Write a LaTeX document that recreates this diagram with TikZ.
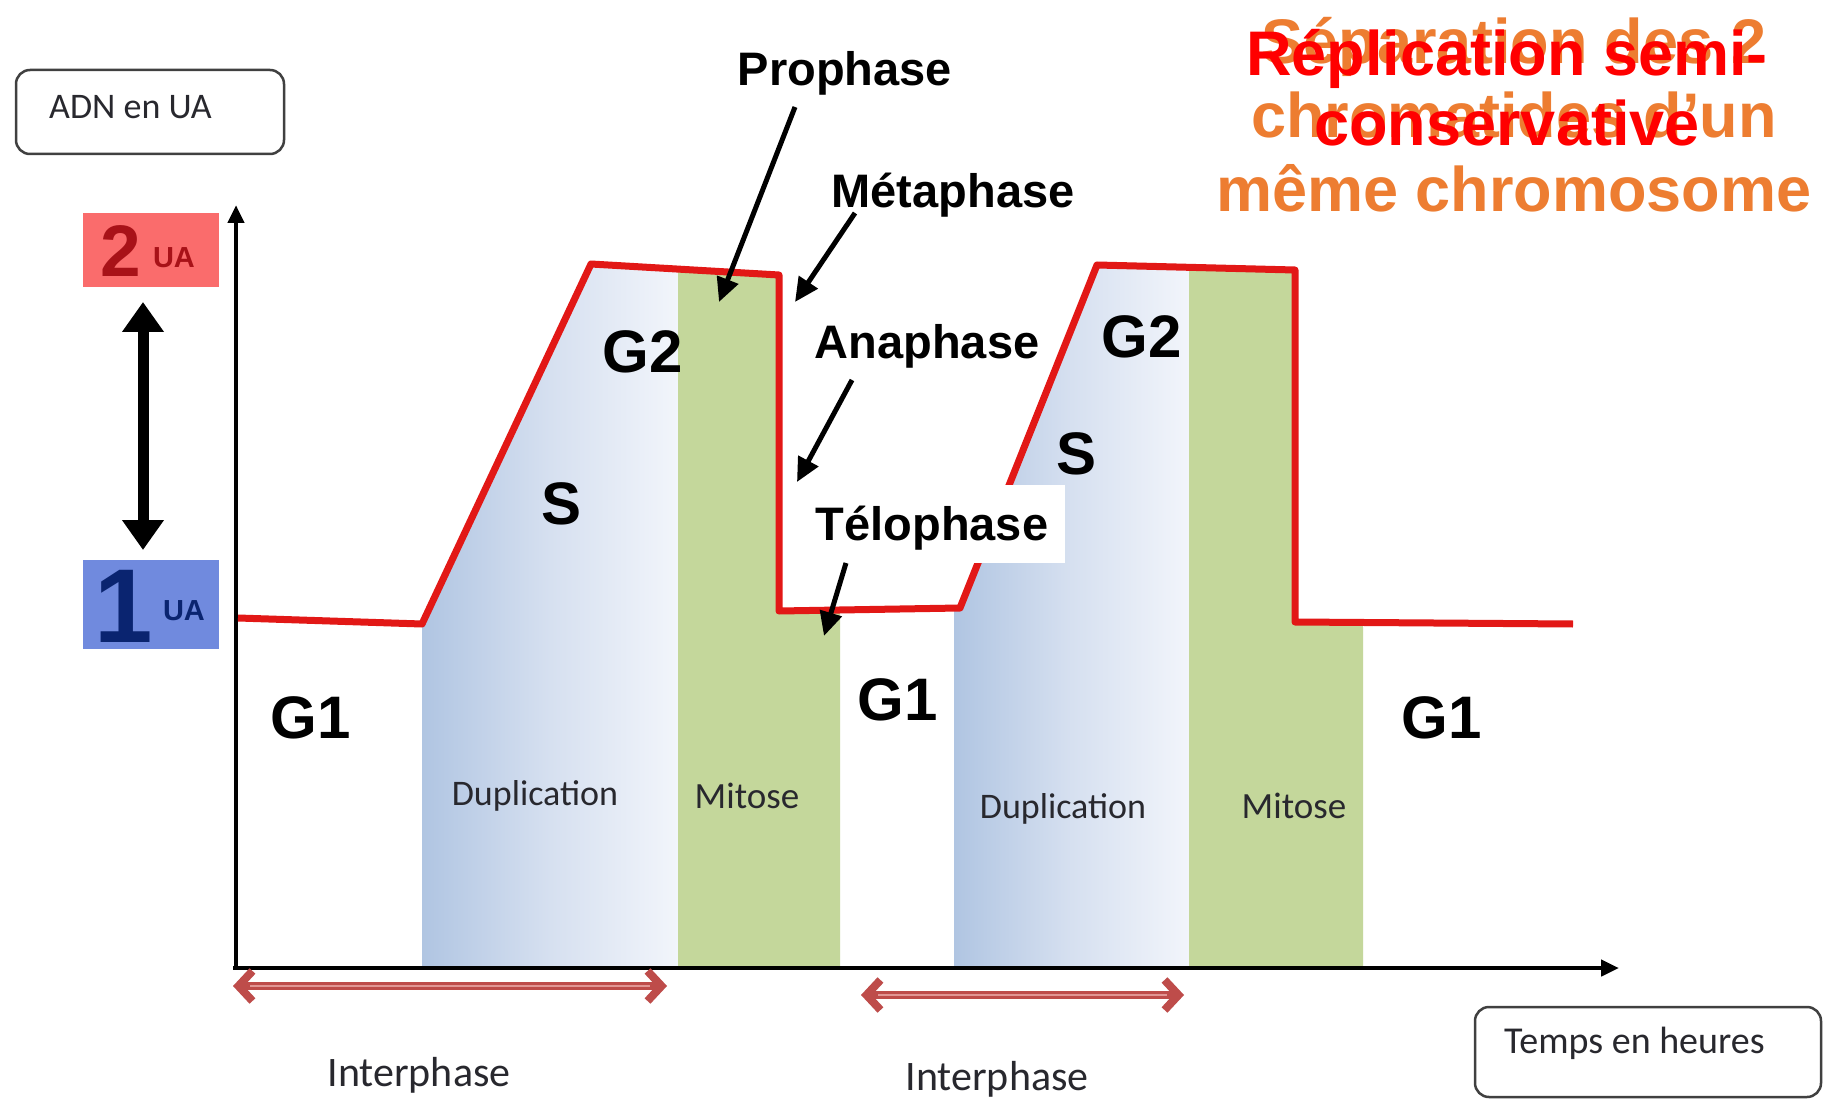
\documentclass[tikz,border=0pt]{standalone}
\usepackage{fontspec}
\setmainfont{Liberation Sans}
\newfontfamily\calib{Carlito}
\usetikzlibrary{arrows.meta}

\definecolor{curvered}{RGB}{226,24,22}
\definecolor{mitgreen}{RGB}{196,215,155}
\definecolor{dupblue}{RGB}{176,197,226}
\definecolor{dupmid}{RGB}{214,224,240}
\definecolor{dupwhite}{RGB}{242,245,251}
\definecolor{ivred}{RGB}{190,76,74}
\definecolor{ivlight}{RGB}{226,150,148}
\definecolor{orangetxt}{RGB}{237,125,49}
\definecolor{twofill}{RGB}{250,108,108}
\definecolor{twotext}{RGB}{168,18,24}
\definecolor{onefill}{RGB}{112,138,222}
\definecolor{onetext}{RGB}{10,36,112}
\definecolor{boxtext}{RGB}{40,40,46}

\tikzset{
  phase/.style={font=\fontsize{47}{50}\selectfont\bfseries, inner sep=0pt, anchor=base},
  stage/.style={font=\fontsize{60}{64}\selectfont\bfseries, inner sep=0pt},
  soft/.style={font=\calib\fontsize{36}{40}\selectfont, text=boxtext, inner sep=0pt, anchor=base},
  legend/.style={draw=black!75, line width=2.5pt, rounded corners=14pt, fill=white},
  pointer/.style={line width=5pt, -{Triangle[length=24pt,width=22pt]}},
  axis/.style={line width=4.5pt, -{Triangle[length=18pt,width=16pt]}},
  dna/.style={draw=curvered, line width=7pt, line join=round},
  span/.style={draw=ivred, line width=8pt, {Straight Barb[length=14pt,width=30pt]}-{Straight Barb[length=14pt,width=30pt]}},
  spancore/.style={draw=ivlight, line width=2pt},
  title/.style={font=\fontsize{63}{70}\selectfont\bfseries, inner sep=0pt, align=center},
  levelarrow/.style={line width=11pt, {Triangle[length=30pt,width=40pt]}-{Triangle[length=30pt,width=40pt]}},
}

\begin{document}
\begin{tikzpicture}[x=1pt, y=-1pt]
\useasboundingbox[fill=white] (0,0) rectangle (1824,1099);

% corners of the DNA curve
\coordinate (c0) at (238,618);
\coordinate (c1) at (422,624);
\coordinate (c2) at (591,264);
\coordinate (c3) at (779,275);
\coordinate (c4) at (779,611);
\coordinate (c5) at (960,608);
\coordinate (c6) at (1097,265);
\coordinate (c7) at (1295,270);
\coordinate (c8) at (1295,622);
\coordinate (c9) at (1573,624);

% S + G2 areas (duplication)
\shade[left color=dupblue, right color=dupwhite, middle color=dupmid]
  (422,968) -- (c1) -- (c2) -- (678,269) -- (678,968) -- cycle;
\shade[left color=dupblue, right color=dupwhite, middle color=dupmid]
  (954,968) -- (954,610) -- (c5) -- (c6) -- (1189,267) -- (1189,968) -- cycle;

% mitosis areas
\fill[mitgreen] (678,269) -- (c3) -- (c4) -- (840,611) -- (840,968) -- (678,968) -- cycle;
\fill[mitgreen] (1189,267) -- (c7) -- (c8) -- (1363,622) -- (1363,968) -- (1189,968) -- cycle;

% axes
\coordinate (origin) at (236,968);
\coordinate (ytop) at (236,205);
\coordinate (xstart) at (233,968);
\coordinate (xend) at (1619,968);
\draw[axis] (origin) -- (ytop);
\draw[axis] (xstart) -- (xend);

% DNA quantity curve
\draw[dna] (c0) -- (c1) -- (c2) -- (c3) -- (c4) -- (c5) -- (c6) -- (c7) -- (c8) -- (c9);

% axis legends
\node[legend, minimum width=268pt, minimum height=84pt] (ylegend) at (150,112) {};
\node[soft, anchor=base west] (ylabel) at (49,119) {ADN en UA};
\node[legend, minimum width=346pt, minimum height=90pt] (xlegend) at (1648,1052) {};
\node[soft, anchor=base west, font=\calib\fontsize{38}{40}\selectfont] (xlabel) at (1504,1053) {Temps en heures};

% DNA levels
\node[fill=twofill, minimum width=136pt, minimum height=74pt, inner sep=0pt] (two) at (151,250) {};
\node[text=twotext, font=\fontsize{73}{75}\selectfont\bfseries, inner sep=0pt] (twonum) at (121,251) {2};
\node[text=twotext, font=\fontsize{29}{30}\selectfont\bfseries, inner sep=0pt] (twoua) at (174,258) {UA};
\node[fill=onefill, minimum width=136pt, minimum height=89pt, inner sep=0pt] (one) at (151,604) {};
\node[text=onetext, font=\fontsize{105}{105}\selectfont\bfseries, inner sep=0pt] (onenum) at (124,606) {1};
\node[text=onetext, font=\fontsize{29}{30}\selectfont\bfseries, inner sep=0pt] (oneua) at (184,611) {UA};
\coordinate (dtop) at (143,302);
\coordinate (dbot) at (143,550);
\draw[levelarrow] (dtop) -- (dbot);

% interphase spans
\coordinate (i1a) at (233,986);
\coordinate (i1b) at (667,986);
\coordinate (i2a) at (861,995);
\coordinate (i2b) at (1184,995);
\draw[span] (i1a) -- (i1b);
\draw[spancore] (250,986) -- (650,986);
\draw[span] (i2a) -- (i2b);
\draw[spancore] (878,995) -- (1167,995);
\node[soft, font=\calib\fontsize{42}{44}\selectfont] (inter1) at (419,1086) {Interphase};
\node[soft, font=\calib\fontsize{42}{44}\selectfont] (inter2) at (997,1090) {Interphase};

% area labels
\node[soft] (dup1) at (535,805) {Duplication};
\node[soft] (dup2) at (1063,818) {Duplication};
\node[soft, font=\calib\fontsize{37}{40}\selectfont] (mit1) at (747,808) {Mitose};
\node[soft, font=\calib\fontsize{37}{40}\selectfont] (mit2) at (1294,818) {Mitose};

% phase names
\node[stage] (g1a) at (311,718) {G1};
\node[stage] (g1b) at (898,700) {G1};
\node[stage] (g1c) at (1442,718) {G1};
\node[stage] (g2a) at (643,352) {G2};
\node[stage] (g2b) at (1142,337) {G2};
\node[stage] (sa) at (562,504) {S};
\node[stage] (sb) at (1076,454) {S};

% mitosis stages
\node[phase] (pro) at (845,86) {Prophase};
\node[phase] (meta) at (953,208) {Métaphase};
\node[phase] (ana) at (927,359) {Anaphase};
\node[fill=white, minimum width=261pt, minimum height=78pt, inner sep=0pt] (telobox) at (934,524) {};
\node[phase] (telo) at (932,540) {Télophase};

\coordinate (pro0) at (795,107);  \coordinate (pro1) at (719,302);
\coordinate (meta0) at (855,213); \coordinate (meta1) at (795,302);
\coordinate (ana0) at (852,380);  \coordinate (ana1) at (797,482);
\coordinate (telo0) at (846,563); \coordinate (telo1) at (824,636);
\draw[pointer] (pro0) -- (pro1);
\draw[pointer] (meta0) -- (meta1);
\draw[pointer] (ana0) -- (ana1);
\draw[pointer] (telo0) -- (telo1);

% headings
\node[title, text=orangetxt, font=\fontsize{63}{74}\selectfont\bfseries] (sep) at (1514,115) {Séparation des 2\\chromatides d’un\\même chromosome};
\node[title, text=red] (repl) at (1507,88) {Réplication semi-\\conservative};
\end{tikzpicture}
\end{document}
